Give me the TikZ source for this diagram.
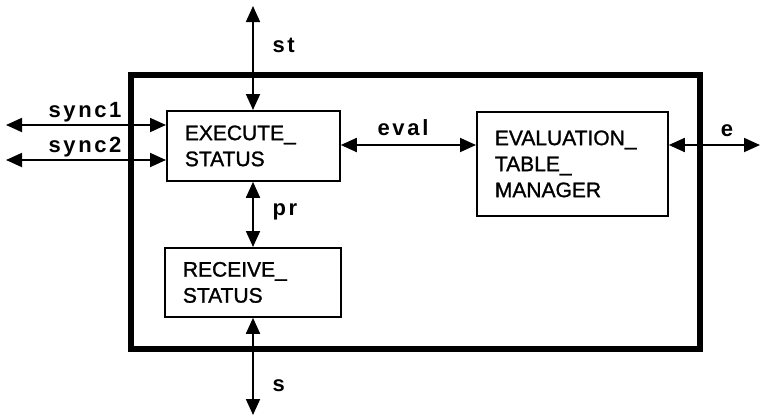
\documentclass[tikz,border=0pt]{standalone}
\usepackage{fontspec}
\setmainfont{Liberation Sans}
\usetikzlibrary{arrows.meta}
\begin{document}
\begin{tikzpicture}[x=1pt,y=-1pt,
  proc/.style={draw,line width=1.8pt,align=left,inner xsep=18pt,inner ysep=0pt,
    font=\fontsize{21}{26}\selectfont\addfontfeature{FakeBold=1.2},anchor=north west},
  flow/.style={line width=1.8pt,{Triangle[length=16pt,width=14pt]}-{Triangle[length=16pt,width=14pt]}},
  lbl/.style={font=\fontsize{22}{24}\selectfont\bfseries\addfontfeature{LetterSpace=12}}]
\useasboundingbox (0,0) rectangle (760,416);
\draw[line width=6pt] (131,75) rectangle (700,349);
\node[proc,minimum width=173pt,minimum height=70pt,text width=137pt] (exec) at (166,110) {EXECUTE\_\\STATUS};
\node[proc,minimum width=191pt,minimum height=104pt,text width=155pt] (eval) at (476,111) {EVALUATION\_\\TABLE\_\\MANAGER};
\node[proc,minimum width=176pt,minimum height=69pt,text width=140pt] (recv) at (164,247) {RECEIVE\_\\STATUS};
\coordinate (st) at (253,6);
\coordinate (s) at (253,415);
\coordinate (sa) at (6,125);
\coordinate (sb) at (6,160);
\coordinate (ee) at (760,145);
\draw[flow] (st) -- (exec.north -| st);
\draw[flow] (exec.south -| st) -- (recv.north -| st);
\draw[flow] (recv.south -| st) -- (s);
\draw[flow] (sa) -- (sa -| exec.west);
\draw[flow] (sb) -- (sb -| exec.west);
\draw[flow] (exec.east |- ee) -- (eval.west |- ee);
\draw[flow] (eval.east |- ee) -- (ee);
\node[lbl,anchor=west] (lst) at (269,45) {st};
\node[lbl,anchor=west] (lpr) at (269,212) {pr};
\node[lbl,anchor=west] (ls) at (269,386) {s};
\node[lbl] (ls1) at (85,112) {sync1};
\node[lbl] (ls2) at (85,147) {sync2};
\node[lbl] (lev) at (403,128) {eval};
\node[lbl] (le) at (727,131) {e};
\end{tikzpicture}
\end{document}
